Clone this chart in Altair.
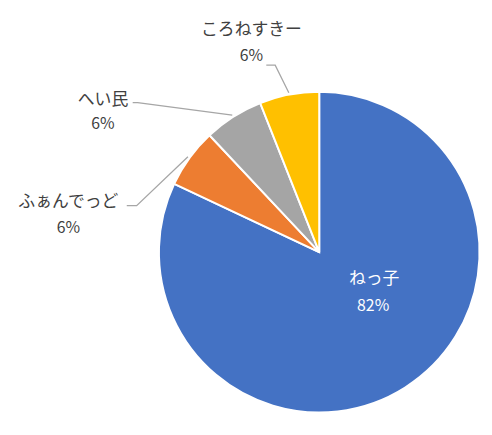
import math
import altair as alt
import pandas as pd

# data
names = ["ねっ子", "ふぁんでっど", "へい民", "ころねすきー"]
values = [82, 6, 6, 6]
colors = ["#4472C4", "#ED7D31", "#A5A5A5", "#FFC000"]

# layout (pixels, relative to pie centre)
CX, CY, R = 314.5, 244.5, 162
name_off = [(55.5, 27), (-253.5, -51), (-218.5, -154), (-68.5, -224)]
pct_off = [(54.5, 54), (-253.5, -24), (-218.5, -129), (-68.5, -198)]
elbow_off = [None, (-184.5, -47), (-183.5, -151), (-44.5, -189)]
end_off = [None, (-194.5, -47), (-188.5, -151), (-53.5, -189)]
text_colors = ["#FFFFFF", "#404040", "#404040", "#404040"]

total = sum(values)
pcts = [f"{round(v / total * 100)}%" for v in values]

pie_df = pd.DataFrame({"name": names, "value": values, "idx": range(len(names))})

lab_rows = []
for i, n in enumerate(names):
    lab_rows.append({"x": CX + name_off[i][0], "y": CY + name_off[i][1], "t": n,
                     "c": text_colors[i], "kind": "name"})
    lab_rows.append({"x": CX + pct_off[i][0], "y": CY + pct_off[i][1], "t": pcts[i],
                     "c": text_colors[i], "kind": "pct"})
lab_df = pd.DataFrame(lab_rows)

line_rows = []
cum = 0.0
for i, v in enumerate(values):
    start = cum
    cum += v
    if elbow_off[i] is None:
        continue
    mid = (start + v / 2) / total * 2 * math.pi
    r0 = R + 2
    line_rows.append({"g": names[i], "o": 0, "x": CX + r0 * math.sin(mid), "y": CY - r0 * math.cos(mid)})
    line_rows.append({"g": names[i], "o": 1, "x": CX + elbow_off[i][0], "y": CY + elbow_off[i][1]})
    line_rows.append({"g": names[i], "o": 2, "x": CX + end_off[i][0], "y": CY + end_off[i][1]})
line_df = pd.DataFrame(line_rows)

pie = alt.Chart(pie_df).mark_arc(outerRadius=R, stroke="white", strokeWidth=2).encode(
    theta=alt.Theta("value:Q", stack=True),
    order=alt.Order("idx:Q"),
    color=alt.Color("name:N", scale=alt.Scale(domain=names, range=colors), legend=None),
    x=alt.value(CX),
    y=alt.value(CY),
)

lines = alt.Chart(line_df).mark_line(color="#A6A6A6", strokeWidth=1.3).encode(
    x=alt.X("x:Q", scale=None),
    y=alt.Y("y:Q", scale=None),
    detail="g:N",
    order="o:Q",
)

name_txt = alt.Chart(lab_df).transform_filter(alt.datum.kind == "name").mark_text(
    font="Noto Sans CJK JP", fontSize=17, baseline="middle", align="center"
).encode(
    x=alt.X("x:Q", scale=None),
    y=alt.Y("y:Q", scale=None),
    text="t:N",
    color=alt.Color("c:N", scale=None),
)

pct_txt = alt.Chart(lab_df).transform_filter(alt.datum.kind == "pct").mark_text(
    font="Noto Sans CJK JP", fontSize=16, baseline="middle", align="center"
).encode(
    x=alt.X("x:Q", scale=None),
    y=alt.Y("y:Q", scale=None),
    text="t:N",
    color=alt.Color("c:N", scale=None),
)

chart = alt.layer(pie, lines, name_txt, pct_txt).properties(
    width=476, height=419, padding=0
).configure_view(stroke=None)

chart.save("out.html", embed_options={"renderer": "svg", "actions": False})
